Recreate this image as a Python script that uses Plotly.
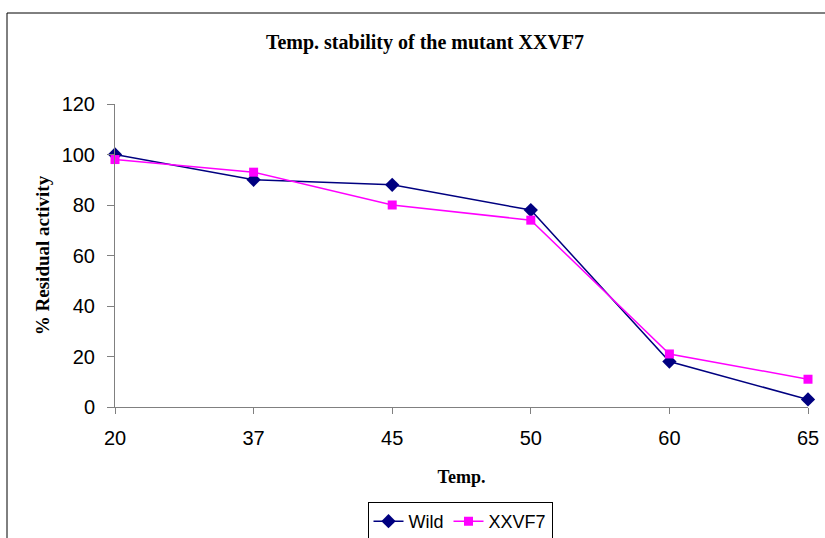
import plotly.graph_objects as go

temps = ["20", "37", "45", "50", "60", "65"]
wild = [100, 90, 88, 78, 18, 3]
xxvf7 = [98, 93, 80, 74, 21, 11]
y_ticks = [0, 20, 40, 60, 80, 100, 120]

xpos = list(range(len(temps)))

L, R, T, B = 115, 17, 104, 131
W, H = 825, 538
pw = W - L - R
ph = H - T - B

def px_to_paper_x(px):
    return (px - L) / pw

def px_to_paper_y(py):
    return (H - B - py) / ph

serif = "Liberation Serif, Times New Roman, serif"
sans = "Liberation Sans, Arial, sans-serif"

fig = go.Figure()
fig.add_trace(go.Scatter(
    x=xpos, y=wild, name="Wild", mode="lines+markers",
    line=dict(color="#000080", width=1.5),
    marker=dict(symbol="diamond", size=11, color="#000080"),
    cliponaxis=False,
))
fig.add_trace(go.Scatter(
    x=xpos, y=xxvf7, name="XXVF7", mode="lines+markers",
    line=dict(color="#FF00FF", width=1.5),
    marker=dict(symbol="square", size=9, color="#FF00FF"),
    cliponaxis=False,
))

fig.update_layout(
    width=W, height=H,
    margin=dict(l=L, r=R, t=T, b=B, autoexpand=False),
    paper_bgcolor="white", plot_bgcolor="white",
    title=dict(
        text="<b>Temp. stability of the mutant XXVF7</b>",
        font=dict(family=serif, size=20, color="black"),
        x=px_to_paper_x(425), xref="paper", xanchor="center",
        y=1 - 42 / H, yanchor="middle",
    ),
    xaxis=dict(
        range=[0, 5], tickmode="array", tickvals=xpos, ticktext=temps,
        showgrid=False, zeroline=False, showline=True, linecolor="#808080", linewidth=1,
        ticks="outside", ticklen=6, tickcolor="#808080",
        ticklabelstandoff=7,
        tickfont=dict(family=sans, size=20, color="black"),
        title=dict(text="<b>Temp.</b>", standoff=22,
                   font=dict(family=serif, size=18, color="black")),
        fixedrange=True,
    ),
    yaxis=dict(
        range=[0, 120], tickmode="array", tickvals=y_ticks,
        showgrid=False, zeroline=False, showline=True, linecolor="#808080", linewidth=1,
        ticks="outside", ticklen=7, tickcolor="#808080",
        ticklabelstandoff=8,
        tickfont=dict(family=sans, size=20, color="black"),
        title=dict(text="<b>% Residual activity</b>", standoff=6,
                   font=dict(family=serif, size=19, color="black")),
        fixedrange=True,
    ),
    showlegend=True,
    legend=dict(
        orientation="h", x=px_to_paper_x(460), xanchor="center",
        y=px_to_paper_y(502), yanchor="top",
        bordercolor="black", borderwidth=1, bgcolor="white",
        font=dict(family=sans, size=18, color="black"),
        itemwidth=30,
    ),
    shapes=[dict(
        type="rect", xref="paper", yref="paper",
        x0=px_to_paper_x(7), x1=px_to_paper_x(840),
        y0=px_to_paper_y(560), y1=px_to_paper_y(13),
        line=dict(color="black", width=1), fillcolor="rgba(0,0,0,0)", layer="below",
    )],
)

fig.write_html("out.html", config={"displayModeBar": False},
               post_script="document.body.style.margin='0px';")
